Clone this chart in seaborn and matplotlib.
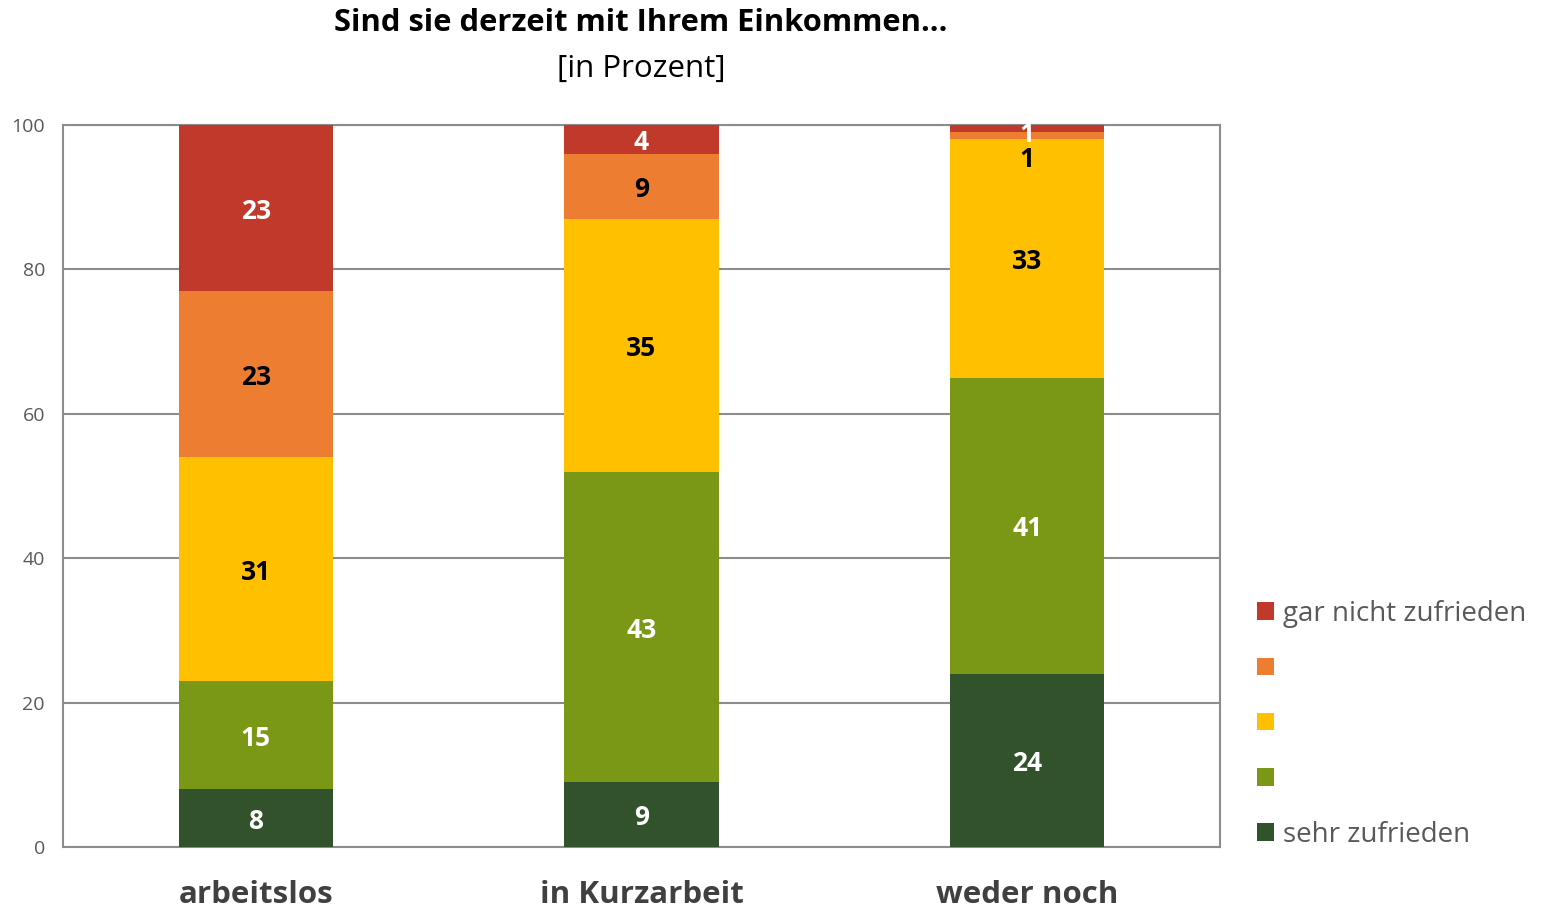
import numpy as np
import pandas as pd
import matplotlib
matplotlib.use("Agg")
import matplotlib.pyplot as plt
from matplotlib.patches import Patch
import seaborn as sns

# Data (percent), segments from bottom to top
categories = ["arbeitslos", "in Kurzarbeit", "weder noch"]
sehr_zufrieden = [8, 9, 24]
eher_zufrieden = [15, 43, 41]
teils_teils = [31, 35, 33]
eher_nicht = [23, 9, 1]
gar_nicht = [23, 4, 1]

segments = [sehr_zufrieden, eher_zufrieden, teils_teils, eher_nicht, gar_nicht]
seg_names = ["sehr zufrieden", "", "", "", "gar nicht zufrieden"]
colors = ["#31522A", "#7A9815", "#FFC000", "#ED7D31", "#C0392B"]
label_colors = ["white", "white", "black", "black", "white"]

sns.set_theme(style="white")
plt.rcParams["font.family"] = ["Open Sans", "DejaVu Sans"]

fig = plt.figure(figsize=(15.42, 9.11), dpi=100)
ax = fig.add_axes([63 / 1542, 1 - 847 / 911, (1220 - 63) / 1542, (847 - 125) / 911])

# stacked bars: draw cumulative totals from the top layer down
vals = np.array(segments, dtype=float)
cum = vals.cumsum(axis=0)
for i in range(len(segments) - 1, -1, -1):
    df = pd.DataFrame({"cat": categories, "val": cum[i]})
    sns.barplot(data=df, x="cat", y="val", color=colors[i], saturation=1,
                width=0.4, ax=ax, zorder=3, linewidth=0)

# value labels in the middle of each segment
nudge = {(2, 3): -2.8, (2, 4): -0.3}  # tiny segments in the last bar
for i in range(len(segments)):
    for j in range(len(categories)):
        bottom = cum[i][j] - vals[i][j]
        y = bottom + vals[i][j] / 2 - 0.45 + nudge.get((j, i), 0)
        ax.text(j, y, f"{int(vals[i][j])}", ha="center", va="center",
                fontsize=19, fontweight="bold", color=label_colors[i],
                zorder=5)

ax.set_ylim(0, 100)
ax.set_xlim(-0.5, 2.5)
ax.set_yticks([0, 20, 40, 60, 80, 100])
ax.yaxis.grid(True, color="#8C8C8C", linewidth=1.5, zorder=0)
ax.set_axisbelow(True)
for s in ax.spines.values():
    s.set_visible(True)
    s.set_color("#8C8C8C")
    s.set_linewidth(1.5)
ax.tick_params(axis="y", labelsize=14, labelcolor="#595959", length=0, pad=13)
ax.tick_params(axis="x", labelsize=22.5, labelcolor="#404040", length=0, pad=24)
for t in ax.get_xticklabels():
    t.set_fontweight("bold")
ax.set_xlabel("")
ax.set_ylabel("")

# title
fig.text(641 / 1542, 1 - 23 / 911, "Sind sie derzeit mit Ihrem Einkommen…",
         ha="center", va="center", fontsize=22.2, fontweight="bold", color="black")
fig.text(641 / 1542, 1 - 69 / 911, "[in Prozent]", ha="center", va="center",
         fontsize=22.5, color="black")

# legend, top entry first
handles = [Patch(facecolor=colors[i], edgecolor="none", label=seg_names[i])
           for i in range(len(segments) - 1, -1, -1)]
fig.legend(handles=handles, loc="upper left",
           bbox_to_anchor=(1232 / 1542, 1 - 575 / 911), frameon=False,
           fontsize=20, labelcolor="#595959", handlelength=0.6,
           handleheight=0.6, handletextpad=0.35, labelspacing=0.98)

fig.savefig("out.png", dpi=100)
